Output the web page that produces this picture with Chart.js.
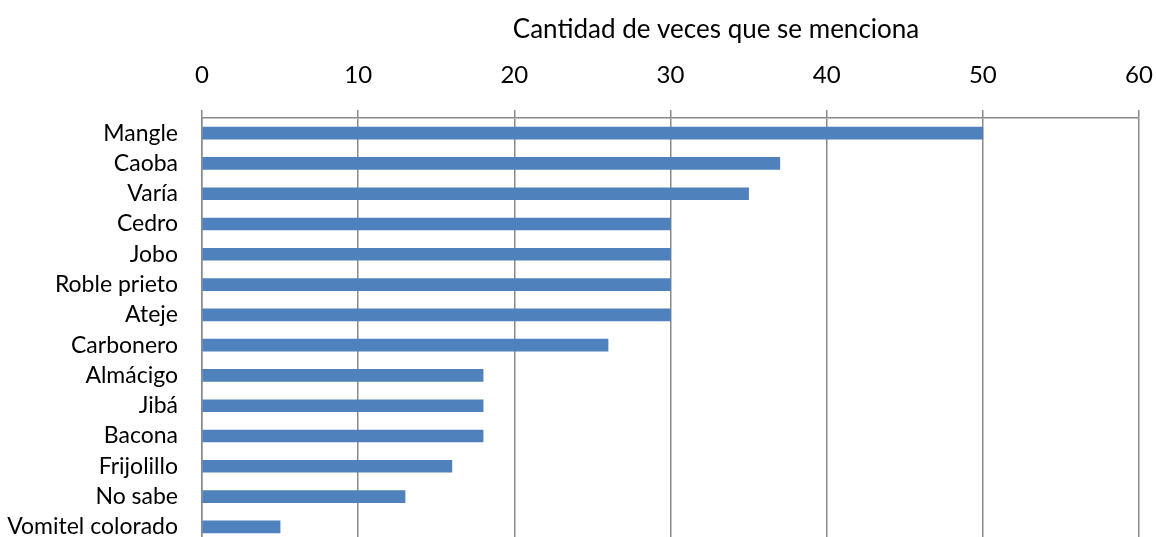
<!DOCTYPE html>
<html><head><meta charset="utf-8">
<script src="https://cdn.jsdelivr.net/npm/chart.js@4/dist/chart.umd.min.js"></script>
<style>html,body{margin:0;padding:0;background:#fff;overflow:hidden;}#wrap{width:1156px;height:537px;overflow:hidden;position:relative;}#box{position:absolute;left:0;top:0;width:1156px;height:545px;}</style>
</head><body>
<div id="wrap"><div id="box"><canvas id="c"></canvas></div></div>
<script>
const categories = ["Mangle","Caoba","Varía","Cedro","Jobo","Roble prieto","Ateje","Carbonero","Almácigo","Jibá","Bacona","Frijolillo","No sabe","Vomitel colorado"];
const values = [50,37,35,30,30,30,30,26,18,18,18,16,13,5];
const axisTitle = "Cantidad de veces que se menciona";
const xMin = 0, xMax = 60, xStep = 10;

const FONT = "Lato, 'Open Sans', sans-serif";
const titlePlugin = {
  id: 'topTitle',
  afterDraw(chart) {
    const ctx = chart.ctx;
    ctx.save();
    ctx.font = "26px " + FONT;
    ctx.fillStyle = "#000";
    ctx.textAlign = "center";
    ctx.textBaseline = "middle";
    ctx.fillText(axisTitle, chart.chartArea.left + 514, 30);
    ctx.restore();
  }
};

new Chart(document.getElementById('c'), {
  type: 'bar',
  data: {
    labels: categories,
    datasets: [{ data: values, backgroundColor: '#4F81BD', barThickness: 12, borderWidth: 0 }]
  },
  options: {
    indexAxis: 'y',
    responsive: true,
    maintainAspectRatio: false,
    devicePixelRatio: 1,
    animation: false,
    layout: { padding: { left: 0, right: 17, top: 0, bottom: 3 } },
    plugins: { legend: { display: false }, tooltip: { enabled: false } },
    scales: {
      x: {
        position: 'top',
        min: xMin, max: xMax,
        afterFit(scale) { scale.height = 118; scale.paddingLeft = 0; scale.paddingRight = 0; },
        ticks: { stepSize: xStep, color: '#000', font: { family: FONT, size: 24 }, padding: 20 },
        grid: { color: '#8a8a8a', lineWidth: 1.5, tickLength: 8, drawTicks: true },
        border: { color: '#8a8a8a', width: 1.5 }
      },
      y: {
        afterFit(scale) { scale.width = 202; scale.paddingTop = 0; scale.paddingBottom = 0; },
        ticks: { color: '#000', font: { family: FONT, size: 23 }, padding: 24, autoSkip: false },
        grid: { display: false, drawTicks: false },
        border: { color: '#8a8a8a', width: 1.5 }
      }
    }
  },
  plugins: [titlePlugin]
});
</script>
</body></html>
